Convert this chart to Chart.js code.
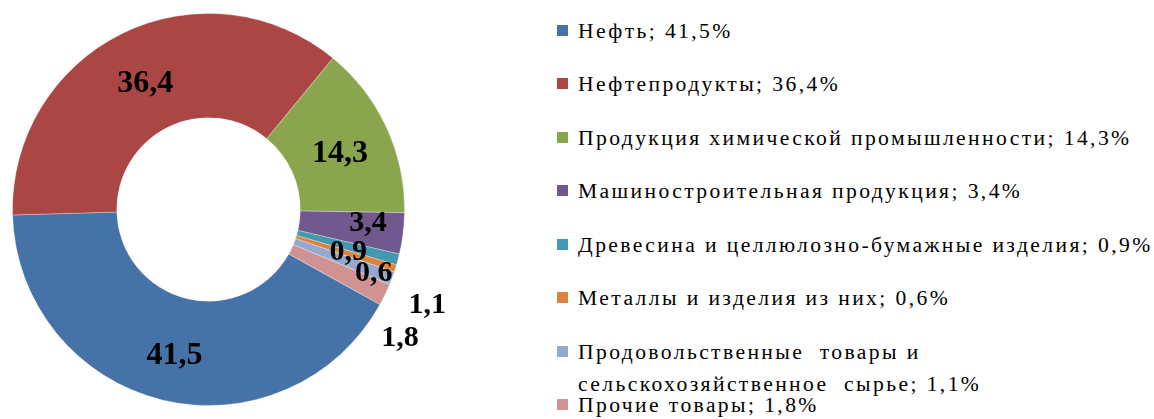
<!DOCTYPE html>
<html>
<head>
<meta charset="utf-8">
<script src="https://cdn.jsdelivr.net/npm/chart.js@4.4.1/dist/chart.umd.min.js"></script>
<style>
html,body{margin:0;padding:0;background:#fff;width:1154px;height:419px;overflow:hidden;}
#wrap{position:relative;width:1154px;height:419px;}
#chartBox{position:absolute;left:0;top:0;width:477px;height:419px;}
.item{position:absolute;left:557px;}
.sw{position:absolute;left:0;top:0;width:11px;height:11px;}
.tx{position:absolute;left:21px;top:-10.3px;white-space:pre;font-family:"Liberation Serif",serif;font-size:21.6px;line-height:32.6px;letter-spacing:2.4px;word-spacing:0px;color:#000;}
</style>
</head>
<body>
<div id="wrap">
  <div id="chartBox"><canvas id="c"></canvas></div>
  <div id="legend"></div>
</div>
<script>
// ---- data ----
const categories = [
  "Нефть",
  "Нефтепродукты",
  "Продукция химической промышленности",
  "Машиностроительная продукция",
  "Древесина и целлюлозно-бумажные изделия",
  "Металлы и изделия из них",
  "Продовольственные  товары и\nсельскохозяйственное  сырье",
  "Прочие товары"
];
const shares = [41.5, 36.4, 14.3, 3.4, 0.9, 0.6, 1.1, 1.8];

// ---- style ----
const colors = ["#4572A7","#AA4643","#89A54E","#71588F","#4198AF","#DB843D","#93A9CF","#D19392"];
// label offsets from each slice's centroid (px) and label font sizes
const labelOffsets = [[0,4],[0,1],[1,2],[16.6,-6.5],[0.6,4],[28,18],[84,43],[62,64]];
const labelSizes = [32,32,32,30,30,30,30,30];

const fmt = v => v.toFixed(1).replace('.', ',');

const labelPlugin = {
  id: 'sliceLabels',
  afterDatasetsDraw(chart) {
    const ctx = chart.ctx;
    const meta = chart.getDatasetMeta(0);
    ctx.save();
    ctx.fillStyle = '#000';
    ctx.textAlign = 'center';
    ctx.textBaseline = 'alphabetic';
    meta.data.forEach((arc, i) => {
      const p = arc.tooltipPosition();
      const s = labelSizes[i];
      ctx.font = 'bold ' + s + 'px "Liberation Serif", serif';
      const x = p.x + labelOffsets[i][0];
      const y = p.y + labelOffsets[i][1] + 0.338 * s;
      ctx.fillText(fmt(shares[i]), x, y);
    });
    ctx.restore();
  }
};

new Chart(document.getElementById('c'), {
  type: 'doughnut',
  data: {
    labels: categories,
    datasets: [{
      data: shares,
      backgroundColor: colors,
      borderColor: 'rgba(255,255,255,0.6)',
      borderWidth: 0.5
    }]
  },
  options: {
    responsive: true,
    maintainAspectRatio: false,
    animation: false,
    rotation: 119,
    radius: 196,
    cutout: 97.5,
    layout: { padding: { left: 0, right: 60, top: 0, bottom: 0 } },
    plugins: { legend: { display: false }, tooltip: { enabled: false } }
  },
  plugins: [labelPlugin]
});

// ---- HTML legend ----
const legend = document.getElementById('legend');
categories.forEach((name, i) => {
  const item = document.createElement('div');
  item.className = 'item';
  item.style.top = (25 + 53.47 * i) + 'px';
  const sw = document.createElement('span');
  sw.className = 'sw';
  sw.style.background = colors[i];
  const tx = document.createElement('div');
  tx.className = 'tx';
  tx.textContent = name + '; ' + fmt(shares[i]) + '%';
  item.appendChild(sw);
  item.appendChild(tx);
  legend.appendChild(item);
});
</script>
</body>
</html>
